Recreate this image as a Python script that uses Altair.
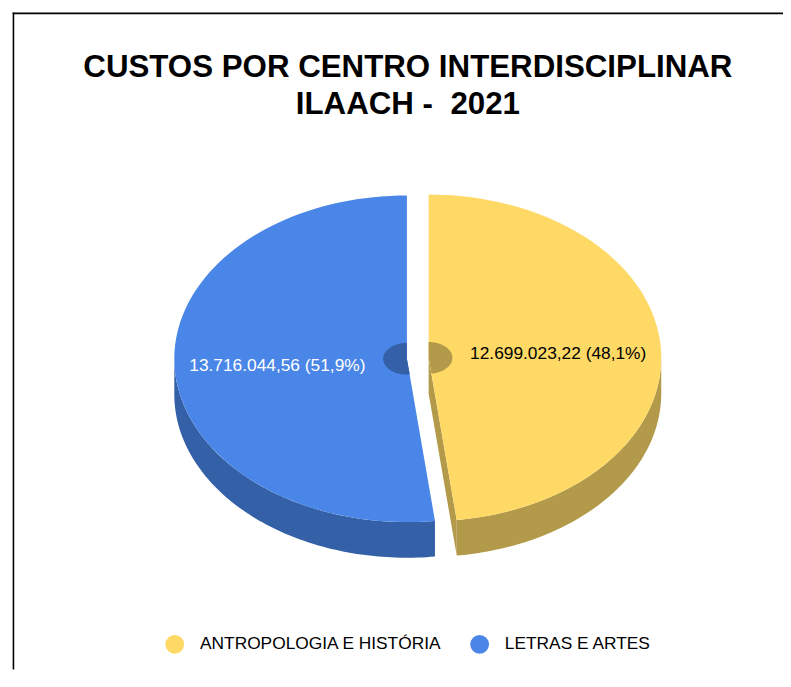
import altair as alt
import pandas as pd

categories = ["ANTROPOLOGIA E HISTÓRIA", "LETRAS E ARTES"]
values = [12699023.22, 13716044.56]
top_colors = ["#FFD966", "#4A86E8"]
side_colors = ["#B39A4A", "#3460A8"]
label_colors = ["#000000", "#FFFFFF"]
title_lines = ["CUSTOS POR CENTRO INTERDISCIPLINAR", "ILAACH -  2021"]


def br(v, d):
    s = f"{v:,.{d}f}"
    return s.replace(",", "X").replace(".", ",").replace("X", ".")


total = sum(values)
labels = [f"{br(v, 2)} ({br(v / total * 100, 1)}%)" for v in values]

df = pd.DataFrame({
    "category": categories,
    "value": values,
    "order": list(range(len(categories))),
    "dark": side_colors,
    "lab": labels,
    "labcol": label_colors,
})

W, H = 783, 665
CX, CY = 414, 350.5
RX, RY, TH, EXP = 235, 165, 36, 11
N = 90
HRX, HRY = 24, 16
LR = 0.558

xs = alt.Scale(domain=[0, W], nice=False, zero=False)
ys = alt.Scale(domain=[0, H], nice=False, zero=False, reverse=True)

base = (
    alt.Chart(df)
    .transform_window(cum="sum(value)", sort=[alt.SortField("order")], frame=[None, 0])
    .transform_joinaggregate(total="sum(value)")
    .transform_calculate(a0="2*PI*(datum.cum-datum.value)/datum.total")
    .transform_calculate(a1="2*PI*datum.cum/datum.total")
    .transform_calculate(mid="(datum.a0+datum.a1)/2")
    .transform_calculate(cx=f"{CX}+{EXP}*sin(datum.mid)")
    .transform_calculate(cy=f"{CY}-{EXP}*{RY / RX}*cos(datum.mid)")
)


def enc(ch, **kw):
    return ch.encode(
        x=alt.X("px:Q", scale=xs, axis=None),
        y=alt.Y("py:Q", scale=ys, axis=None),
        order=alt.Order("k:Q"),
        detail="category:N",
        **kw,
    )


# front side walls
side = (
    base.transform_calculate(s0="max(datum.a0, PI/2)")
    .transform_calculate(s1="min(datum.a1, 3*PI/2)")
    .transform_filter("datum.s1 > datum.s0")
    .transform_calculate(k=f"sequence(0, {2 * N + 2})")
    .transform_flatten(["k"])
    .transform_calculate(t=f"datum.k <= {N} ? datum.k/{N} : ({2 * N + 1}-datum.k)/{N}")
    .transform_calculate(dn=f"datum.k <= {N} ? 0 : {TH}")
    .transform_calculate(ang="datum.s0 + (datum.s1-datum.s0)*datum.t")
    .transform_calculate(px=f"datum.cx + {RX}*sin(datum.ang)")
    .transform_calculate(py=f"datum.cy - {RY}*cos(datum.ang) + datum.dn")
    .mark_line(filled=True)
)
side = enc(side, fill=alt.Fill("dark:N", scale=None))


def cut(edge_expr, filt):
    c = (
        base.transform_calculate(e=edge_expr)
        .transform_filter(filt)
        .transform_calculate(k="sequence(0, 4)")
        .transform_flatten(["k"])
        .transform_calculate(rim="(datum.k==1 || datum.k==2) ? 1 : 0")
        .transform_calculate(px=f"datum.cx + datum.rim*{RX}*sin(datum.e)")
        .transform_calculate(py=f"datum.cy - datum.rim*{RY}*cos(datum.e) + (datum.k>=2 ? {TH} : 0)")
        .mark_line(filled=True)
    )
    return enc(c, fill=alt.Fill("dark:N", scale=None))


cut_end = cut("datum.a1", "sin(datum.a1) > 0.01")
cut_start = cut("datum.a0", "sin(datum.a0) < -0.01")


def sector(rx, ry):
    return (
        base.transform_calculate(k=f"sequence(0, {N + 2})")
        .transform_flatten(["k"])
        .transform_calculate(ang=f"datum.a0 + (datum.a1-datum.a0)*max(datum.k-1,0)/{N}")
        .transform_calculate(px=f"datum.k==0 ? datum.cx : datum.cx + {rx}*sin(datum.ang)")
        .transform_calculate(py=f"datum.k==0 ? datum.cy : datum.cy - {ry}*cos(datum.ang)")
        .mark_line(filled=True)
    )


top = enc(
    sector(RX, RY),
    color=alt.Color(
        "category:N",
        scale=alt.Scale(domain=categories, range=top_colors),
        legend=alt.Legend(
            title=None,
            orient="none",
            legendX=159,
            legendY=630,
            direction="horizontal",
            symbolType="circle",
            symbolSize=361,
            symbolStrokeWidth=0,
            labelFont="Liberation Sans",
            labelFontSize=17.5,
            labelColor="#000000",
            labelOffset=16,
            labelLimit=0,
            columnPadding=28,
        ),
    ),
)

hole = enc(sector(HRX, HRY), fill=alt.Fill("dark:N", scale=None))

text = (
    base.transform_calculate(lx=f"datum.cx + {LR * RX}*sin(datum.mid)")
    .transform_calculate(ly=f"datum.cy - {LR * RY}*cos(datum.mid) + 1.5")
    .mark_text(font="Liberation Sans", fontSize=17.5, align="center", baseline="middle")
    .encode(
        x=alt.X("lx:Q", scale=xs, axis=None),
        y=alt.Y("ly:Q", scale=ys, axis=None),
        text="lab:N",
        fill=alt.Fill("labcol:N", scale=None),
    )
)

# keep the double space of the original title visible (SVG collapses spaces)
title_text = "\n".join(t.replace("  ", " \u00a0") for t in title_lines)
title = (
    alt.Chart(pd.DataFrame({"title": [title_text]}))
    .mark_text(
        lineBreak="\n",
        lineHeight=38,
        font="Liberation Sans",
        fontSize=31.6,
        fontWeight="bold",
        align="center",
        baseline="alphabetic",
        color="#000000",
    )
    .encode(text="title:N", x=alt.value(404), y=alt.value(66))
)

# outer frame drawn as thin filled bars (no strokes)
frame_df = pd.DataFrame({"b": [0]})
border_top = alt.Chart(frame_df).mark_rect(color="#000000", strokeWidth=0).encode(
    x=alt.value(4.7), x2=alt.value(W), y=alt.value(1.2), y2=alt.value(2.8)
)
border_left = alt.Chart(frame_df).mark_rect(color="#000000", strokeWidth=0).encode(
    x=alt.value(4.7), x2=alt.value(6.3), y=alt.value(1.2), y2=alt.value(H)
)

chart = (
    alt.layer(side, cut_end, cut_start, top, hole, text, title, border_top, border_left)
    .properties(width=W, height=H, autosize=alt.AutoSizeParams(type="none"), padding=0)
    .configure_view(strokeWidth=0)
)

chart.save("out.html", embed_options={"renderer": "svg", "actions": False})
